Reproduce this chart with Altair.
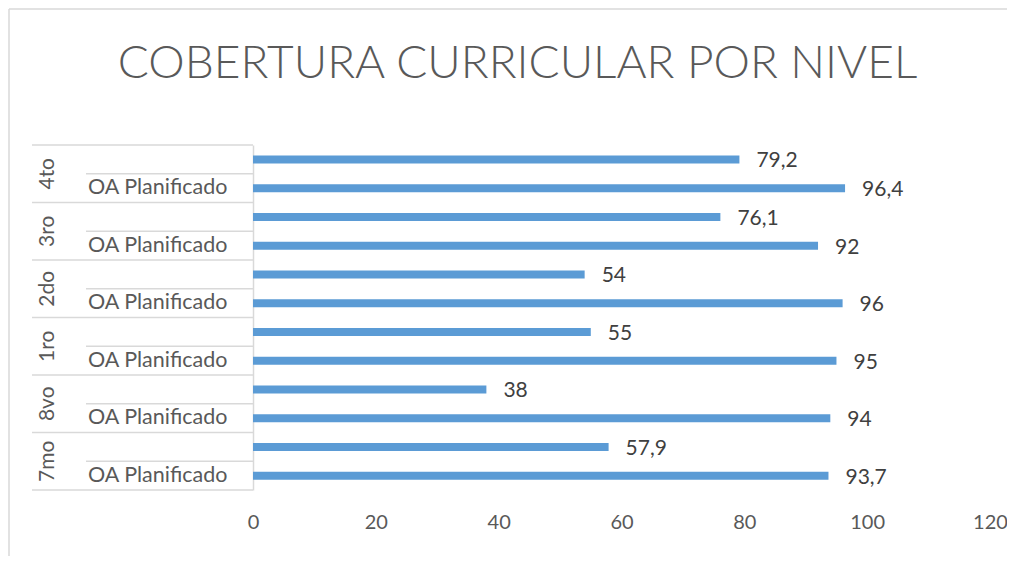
import altair as alt
import pandas as pd

# ---- data ----
grupos = ["4to", "3ro", "2do", "1ro", "8vo", "7mo"]
subcategorias = ["", "OA Planificado"]
serie_superior = [79.2, 76.1, 54, 55, 38, 57.9]
serie_oa = [96.4, 92, 96, 95, 94, 93.7]
ticks_x = [0, 20, 40, 60, 80, 100, 120]
titulo = "COBERTURA CURRICULAR POR NIVEL"

rows = []
for g, v1, v2 in zip(grupos, serie_superior, serie_oa):
    rows.append({"fila": g + "|a", "grupo": g, "sub": subcategorias[0], "valor": v1, "tipo": "sup"})
    rows.append({"fila": g + "|b", "grupo": g, "sub": subcategorias[1], "valor": v2, "tipo": "oa"})
df = pd.DataFrame(rows)
orden = list(df["fila"])

W, H = 737, 345
PAD = {"left": 245, "top": 137, "right": 17, "bottom": 66}
LINE = "#d9d9d9"
FONT = "Lato"

yscale = alt.Scale(domain=orden, paddingInner=0, paddingOuter=0)
base = alt.Chart(df)

bars = base.mark_bar(size=8, color="#5B9BD5").encode(
    x=alt.X("valor:Q", scale=alt.Scale(domain=[0, 120]),
            axis=alt.Axis(values=ticks_x, title=None, domain=False, ticks=False, grid=False,
                          labelFontSize=20, labelColor="#595959", labelFont=FONT,
                          labelPadding=22, labelFlush=False)),
    y=alt.Y("fila:N", scale=yscale, sort=orden,
            axis=alt.Axis(labels=False, ticks=False, title=None, grid=False,
                          domainColor=LINE, domainWidth=1.5)),
)

valores = base.transform_calculate(
    etiqueta="replace(toString(datum.valor), '.', ',')"
).mark_text(align="left", baseline="middle", dx=17, dy=2, fontSize=21,
            color="#404040", font=FONT).encode(
    x="valor:Q",
    y=alt.Y("fila:N", scale=yscale, sort=orden),
    text="etiqueta:N",
)

subs = base.mark_text(align="left", baseline="middle", fontSize=21.5, color="#595959", font=FONT).encode(
    x=alt.value(-165),
    y=alt.Y("fila:N", scale=yscale, sort=orden),
    text="sub:N",
)

grp = base.transform_filter("datum.tipo == 'oa'").mark_text(
    angle=270, align="center", baseline="middle", fontSize=21, color="#595959", font=FONT
).encode(
    x=alt.value(-205),
    y=alt.Y("fila:N", scale=yscale, sort=orden, bandPosition=0),
    text="grupo:N",
)

long_lines = base.transform_filter("datum.tipo == 'sup'").mark_rule(color=LINE, strokeWidth=1.5).encode(
    x=alt.value(-221), x2=alt.value(0),
    y=alt.Y("fila:N", scale=yscale, sort=orden, bandPosition=0),
)
bottom_line = base.transform_filter("datum.fila == '%s'" % orden[-1]).mark_rule(color=LINE, strokeWidth=1.5).encode(
    x=alt.value(-221), x2=alt.value(0),
    y=alt.Y("fila:N", scale=yscale, sort=orden, bandPosition=1),
)
inner_lines = base.transform_filter("datum.tipo == 'oa'").mark_rule(color=LINE, strokeWidth=1.5).encode(
    x=alt.value(-167), x2=alt.value(0),
    y=alt.Y("fila:N", scale=yscale, sort=orden, bandPosition=0),
)

frame_left = base.transform_filter("datum.fila == '%s'" % orden[0]).mark_rule(color=LINE, strokeWidth=1.5).encode(
    x=alt.value(-244), y=alt.value(-136), y2=alt.value(H + PAD["bottom"]),
)
frame_top = base.transform_filter("datum.fila == '%s'" % orden[0]).mark_rule(color=LINE, strokeWidth=1.5).encode(
    x=alt.value(-244), x2=alt.value(W + PAD["right"]), y=alt.value(-136),
)

chart = alt.layer(
    frame_left, frame_top, long_lines, bottom_line, inner_lines, bars, valores, subs, grp
).properties(
    width=W, height=H,
    autosize=alt.AutoSizeParams(type="none"),
    padding=PAD,
    title=alt.TitleParams(titulo, anchor="middle", frame="group", dx=-104, offset=0, dy=80,
                          fontSize=46, font=FONT, fontWeight=300, color="#595959"),
).configure_view(stroke=None)

chart.save("out.html", embed_options={"renderer": "svg", "actions": False})
